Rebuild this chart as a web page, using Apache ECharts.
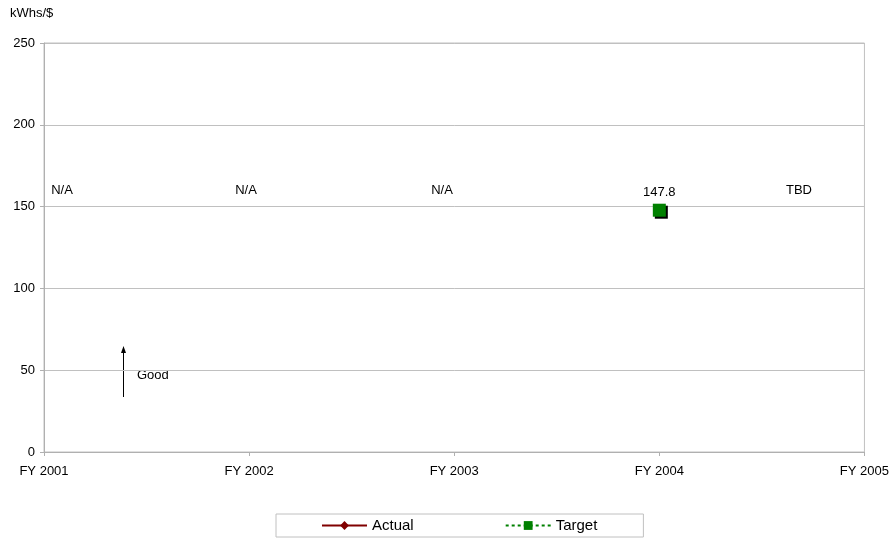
<!DOCTYPE html>
<html>
<head>
<meta charset="utf-8">
<script src="https://cdn.jsdelivr.net/npm/echarts@6/dist/echarts.min.js"></script>
<style>
  html, body { margin: 0; padding: 0; background: #fff; }
  #chart { width: 892px; height: 540px; }
</style>
</head>
<body>
<div id="chart"></div>
<script>
// categories and values
const years = ['FY 2001', 'FY 2002', 'FY 2003', 'FY 2004', 'FY 2005'];
const actual = [null, null, null, null, null];
const target = [null, null, null, 147.8, null];
const yTicks = [0, 50, 100, 150, 200, 250];
const notes = ['N/A', 'N/A', 'N/A', '', 'TBD'];

const FONT = '"Liberation Sans", Arial, sans-serif';
const chart = echarts.init(document.getElementById('chart'));

// annotation text spots (pixels)
const noteX = [62, 246, 442, 0, 799];
const noteTexts = notes
  .map((t, i) => ({ t, i }))
  .filter(n => n.t)
  .map(n => ({
    type: 'text',
    x: noteX[n.i],
    y: 190,
    style: {
      text: n.t,
      fill: '#000',
      font: '13px ' + FONT,
      textAlign: 'center',
      textVerticalAlign: 'middle'
    }
  }));

chart.setOption({
  animation: false,
  textStyle: { fontFamily: FONT },
  grid: {
    left: 44,
    right: 27,
    top: 43,
    bottom: 88,
    show: true,
    borderColor: '#c0c0c0',
    borderWidth: 1
  },
  legend: {
    left: 276,
    top: 514,
    padding: [4, 46, 4, 45],
    itemGap: 91,
    itemWidth: 45,
    itemHeight: 11,
    borderColor: '#c0c0c0',
    borderWidth: 1,
    textStyle: { fontSize: 15, color: '#000', fontFamily: FONT },
    data: ['Actual', 'Target']
  },
  xAxis: {
    type: 'category',
    data: years,
    boundaryGap: false,
    axisLine: { lineStyle: { color: '#b0b0b0' } },
    axisTick: { show: true, length: 4, lineStyle: { color: '#b0b0b0' } },
    axisLabel: { color: '#000', fontSize: 13, margin: 13, fontFamily: FONT },
    splitLine: { show: false }
  },
  yAxis: {
    type: 'value',
    min: yTicks[0],
    max: yTicks[yTicks.length - 1],
    interval: 50,
    axisLine: { show: true, lineStyle: { color: '#b0b0b0' } },
    axisTick: { show: true, length: 4, lineStyle: { color: '#b0b0b0' } },
    axisLabel: { color: '#000', fontSize: 13, margin: 9, fontFamily: FONT },
    splitLine: { lineStyle: { color: '#c0c0c0' } }
  },
  series: [
    {
      name: 'Actual',
      type: 'line',
      data: actual,
      color: '#800000',
      symbol: 'diamond',
      symbolSize: 11,
      lineStyle: { color: '#800000', width: 1 }
    },
    {
      name: 'Target',
      type: 'line',
      data: target,
      color: '#008000',
      symbol: 'rect',
      symbolSize: 13,
      lineStyle: { color: '#008000', width: 1, type: [3, 3] },
      itemStyle: {
        color: '#008000',
        shadowColor: '#000',
        shadowOffsetX: 2,
        shadowOffsetY: 2,
        shadowBlur: 0
      },
      label: {
        show: true,
        position: 'top',
        distance: 5,
        color: '#000',
        fontSize: 13,
        fontFamily: FONT
      }
    }
  ],
  graphic: [
    {
      type: 'text',
      x: 10,
      y: 13,
      style: {
        text: 'kWhs/$',
        fill: '#000',
        font: '13px ' + FONT,
        textVerticalAlign: 'middle'
      }
    },
    ...noteTexts,
    {
      type: 'line',
      shape: { x1: 123.5, y1: 397, x2: 123.5, y2: 351 },
      style: { stroke: '#000', lineWidth: 1 }
    },
    {
      type: 'polygon',
      shape: { points: [[123.5, 346], [121, 353], [126, 353]] },
      style: { fill: '#000' }
    },
    {
      type: 'text',
      x: 137,
      y: 375,
      style: {
        text: 'Good',
        fill: '#000',
        font: '13px ' + FONT,
        textVerticalAlign: 'middle'
      }
    }
  ]
});
</script>
</body>
</html>
